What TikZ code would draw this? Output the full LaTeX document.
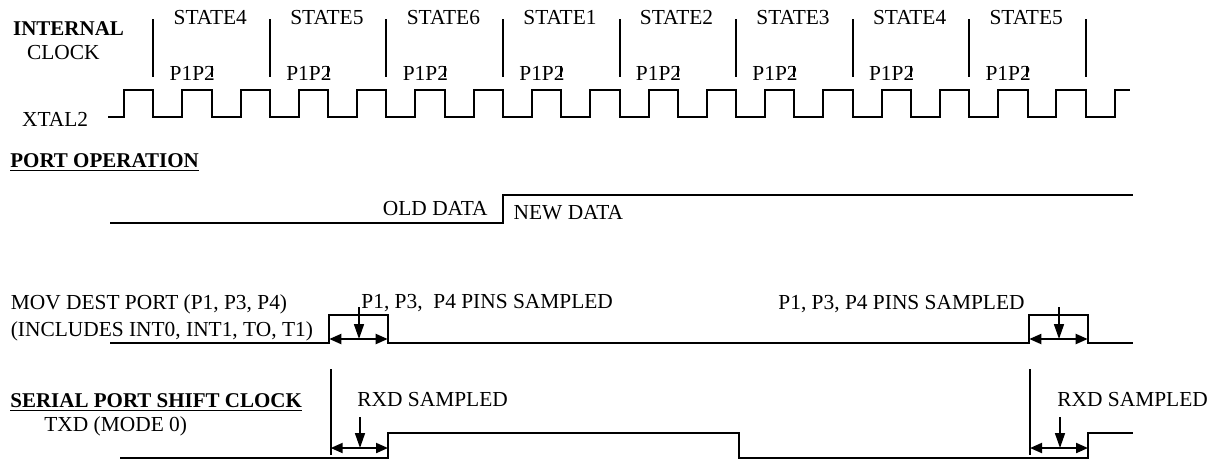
\documentclass[tikz,border=0pt]{standalone}
\usepackage{fontspec}
\setmainfont{Liberation Serif}
\usetikzlibrary{arrows.meta}
\begin{document}
\begin{tikzpicture}[x=0.5pt,y=-0.5pt,
  lbl/.style={inner sep=0pt,font=\fontsize{10.7}{12}\selectfont},
  blbl/.style={inner sep=0pt,font=\fontsize{10.5}{12}\selectfont\bfseries},
  wave/.style={line width=1pt,line join=miter},
  tickln/.style={line width=1pt},
  thinln/.style={line width=0.8pt},
  harr/.style={line width=1pt,{Triangle[length=6pt,width=5pt]}-{Triangle[length=6pt,width=5pt]}},
  varr/.style={line width=0.8pt,-{Triangle[length=7.5pt,width=5pt]}}]
\useasboundingbox (0,0) rectangle (1214,463);

% ---- internal clock ----
\node[blbl,anchor=base west] (internal) at (12.7,35) {INTERNAL};
\node[lbl,anchor=base west] (clock) at (26.7,59) {CLOCK};
\node[lbl,anchor=base west] (xtal) at (21.7,126) {XTAL2};

\foreach \k in {0,...,8} {
  \draw[tickln] ({153.3+116.55*\k},19) -- ({153.3+116.55*\k},77);
}
\foreach \s [count=\i from 0] in {4,5,6,1,2,3,4,5} {
  \node[lbl,anchor=base] (st\i) at ({153.3+116.55*\i+57},24) {STATE\s};
  \node[lbl,anchor=base west] (pp\i) at ({153.3+116.55*\i+16},80) {P1P2};
  \draw[tickln] ({211.6+116.55*\i},66) -- ({211.6+116.55*\i},77);
}

\draw[wave] (108.3,117)
  \foreach \k in {0,...,16} {
    -- ({124+58.28*\k},117) -- ({124+58.28*\k},90)
    -- ({153.3+58.28*\k},90) -- ({153.3+58.28*\k},117)
  }
  -- ({124+58.28*17},117) -- ({124+58.28*17},90) -- (1130,90);

% ---- port operation ----
\node[blbl,anchor=base west] (portop) at (10,167) {\underline{PORT OPERATION}};
\draw[wave] (110,223.3) -- (503.3,223.3) -- (503.3,195) -- (1133,195);
\node[lbl,anchor=base east] (old) at (488,215) {OLD DATA};
\node[lbl,anchor=base west] (new) at (513.3,219.3) {NEW DATA};

% ---- MOV dest port ----
\node[lbl,anchor=base west] (mov1) at (10.4,309) {MOV DEST PORT (P1, P3, P4)};
\node[lbl,anchor=base west] (mov2) at (10.4,336) {(INCLUDES INT0, INT1, TO, T1)};
\draw[wave] (110,343.3) -- (329.3,343.3) -- (329.3,315) -- (387.7,315) -- (387.7,343.3)
  -- (1029.3,343.3) -- (1029.3,315) -- (1087.7,315) -- (1087.7,343.3) -- (1132.7,343.3);
\node[lbl,anchor=base west] (samp1) at (361,308) {P1, P3, \ P4 PINS SAMPLED};
\node[lbl,anchor=base east] (samp2) at (1025,309) {P1, P3, P4 PINS SAMPLED};
\coordinate (ma1) at (329.3,339);
\coordinate (mb1) at (387.7,339);
\coordinate (ma2) at (1029.3,339);
\coordinate (mb2) at (1087.7,339);
\coordinate (mt1) at (359,307);
\coordinate (mk1) at (359,339);
\coordinate (mt2) at (1059,307);
\coordinate (mk2) at (1059,339);
\draw[harr] (ma1) -- (mb1);
\draw[harr] (ma2) -- (mb2);
\draw[varr] (mt1) -- (mk1);
\draw[varr] (mt2) -- (mk2);

% ---- serial port ----
\node[blbl,anchor=base west] (serial) at (10,407) {\underline{SERIAL PORT SHIFT CLOCK}};
\node[lbl,anchor=base west] (txd) at (44,431) {TXD (MODE 0)};
\coordinate (vl1t) at (330.7,369);
\coordinate (vl1b) at (330.7,455);
\coordinate (vl2t) at (1030,369);
\coordinate (vl2b) at (1030,455);
\draw[thinln] (vl1t) -- (vl1b);
\draw[thinln] (vl2t) -- (vl2b);
\draw[wave] (120,458) -- (388,458) -- (388,433) -- (738.5,433) -- (738.5,458)
  -- (1088,458) -- (1088,433) -- (1133,433);
\node[lbl,anchor=base west] (rxd1) at (357,406) {RXD SAMPLED};
\node[lbl,anchor=base west] (rxd2) at (1057,406) {RXD SAMPLED};
\coordinate (sa1) at (330.7,448);
\coordinate (sb1) at (388,448);
\coordinate (sa2) at (1030,448);
\coordinate (sb2) at (1088,448);
\coordinate (st1) at (360,417);
\coordinate (sk1) at (360,448);
\coordinate (st2) at (1060,417);
\coordinate (sk2) at (1060,448);
\draw[harr] (sa1) -- (sb1);
\draw[harr] (sa2) -- (sb2);
\draw[varr] (st1) -- (sk1);
\draw[varr] (st2) -- (sk2);
\end{tikzpicture}
\end{document}
